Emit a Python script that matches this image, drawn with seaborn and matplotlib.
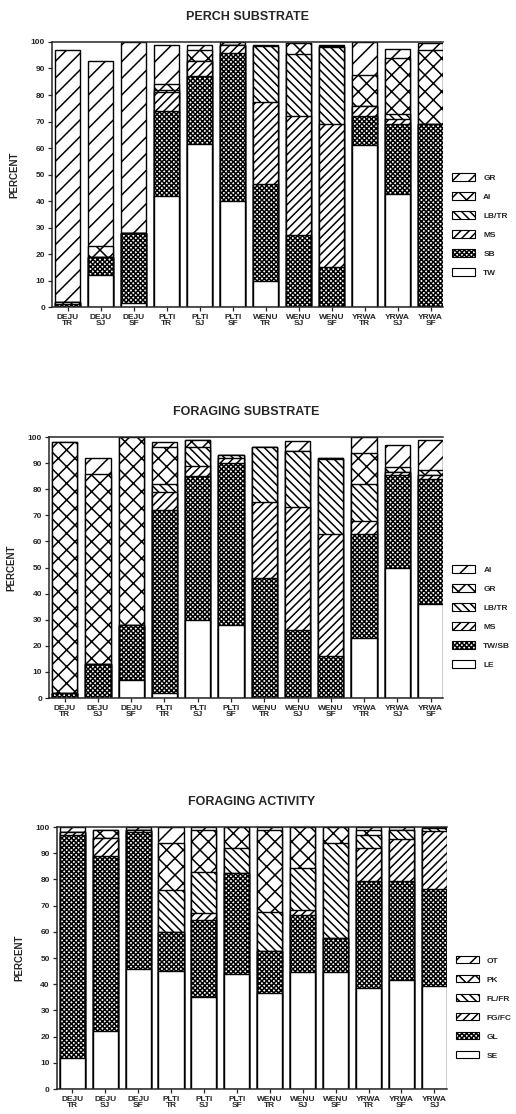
import pandas as pd
import matplotlib.pyplot as plt
import seaborn as sns
from matplotlib.patches import Patch

# Sites (bird species / habitat)
sites_a = ["DEJU\nTR", "DEJU\nSJ", "DEJU\nSF", "PLTI\nTR", "PLTI\nSJ", "PLTI\nSF",
           "WENU\nTR", "WENU\nSJ", "WENU\nSF", "YRWA\nTR", "YRWA\nSJ", "YRWA\nSF"]
sites_c = ["DEJU\nTR", "DEJU\nSJ", "DEJU\nSF", "PLTI\nTR", "PLTI\nSJ", "PLTI\nSF",
           "WENU\nTR", "WENU\nSJ", "WENU\nSF", "YRWA\nTR", "YRWA\nSF", "YRWA\nSJ"]

# Perch substrate (percent, bottom to top)
perch_tw = [0, 12, 1.5, 42, 61.5, 40, 10, 0, 0.5, 61, 42.5, 0.5]
perch_sb = [1, 7, 26.5, 32, 25.5, 56, 36.5, 27, 14.5, 11, 26.5, 68.5]
perch_ms = [1, 0, 0, 7, 6, 3, 31, 45, 54, 4, 2, 0]
perch_lbtr = [0, 0, 0, 1, 0, 0, 21, 23.5, 29, 0, 2, 0]
perch_ai = [0, 4, 0, 2, 4, 0, 0, 4, 0.5, 11.5, 21, 28]
perch_gr = [95, 70, 72, 15, 2, 1, 0.5, 0, 0.5, 12.5, 3.5, 2.5]

# Foraging substrate
forsub_le = [0, 0, 7, 2, 30, 28, 0, 0, 0, 23, 50, 36]
forsub_twsb = [2, 13, 21, 70, 55, 62, 46, 26, 16, 40, 35.5, 48]
forsub_ms = [0, 0, 0, 7, 4, 2, 29, 47, 47, 5, 1, 1.5]
forsub_lbtr = [0, 0, 0, 3, 7, 1, 21, 21.5, 28.5, 14, 0, 0]
forsub_gr = [96, 73, 72, 14, 3, 0, 0, 0, 0.5, 12, 2, 2]
forsub_ai = [0, 6, 0, 2, 0, 0, 0, 4, 0, 6, 8.5, 11.5]

# Foraging activity
foract_se = [12, 22, 46, 45, 35, 44, 36.5, 44.5, 44.5, 38.5, 41.5, 39.5]
foract_gl = [85, 67, 52, 15, 29.5, 38.5, 16, 22, 13, 41, 38, 37]
foract_fgfc = [1, 7, 1, 0, 2.5, 0, 0, 2, 0, 12.5, 16, 22]
foract_flfr = [0, 0, 0, 16, 16, 9.5, 15, 16, 36.5, 5, 3.5, 1]
foract_pk = [0, 3, 0, 18, 16, 8, 31.5, 15.5, 6, 2, 0, 0]
foract_ot = [2, 0, 1, 6, 1, 0, 1, 0, 0, 1, 1, 0.5]

# hatch per position in stack (bottom to top)
hatches = ["", "xxxxxxx", "////", "\\" * 4, "xx", "//"]

sns.set_style("ticks")
plt.rcParams["font.family"] = ["Liberation Sans", "DejaVu Sans"]
plt.rcParams["font.weight"] = "bold"
plt.rcParams["hatch.linewidth"] = 1.1
plt.rcParams["hatch.color"] = "black"

fig = plt.figure(figsize=(5.16, 11.14), dpi=100)

panels = [
    ("PERCH SUBSTRATE", sites_a, [0.101, 0.7244, 0.758, 0.2379],
     ["TW", "SB", "MS", "LB/TR", "AI", "GR"],
     [perch_tw, perch_sb, perch_ms, perch_lbtr, perch_ai, perch_gr]),
    ("FORAGING SUBSTRATE", sites_a, [0.095, 0.3734, 0.764, 0.2343],
     ["LE", "TW/SB", "MS", "LB/TR", "GR", "AI"],
     [forsub_le, forsub_twsb, forsub_ms, forsub_lbtr, forsub_gr, forsub_ai]),
    ("FORAGING ACTIVITY", sites_c, [0.110, 0.0224, 0.756, 0.2352],
     ["SE", "GL", "FG/FC", "FL/FR", "PK", "OT"],
     [foract_se, foract_gl, foract_fgfc, foract_flfr, foract_pk, foract_ot]),
]

for title, sites, rect, cats, values in panels:
    ax = fig.add_axes(rect)
    df = pd.DataFrame({c: v for c, v in zip(cats, values)})
    cum = df[cats].cumsum(axis=1)
    cum["site"] = sites
    # draw cumulative totals from the top layer down, each covering the last
    for i in range(len(cats) - 1, -1, -1):
        sns.barplot(data=cum, x="site", y=cats[i], order=sites, color="white",
                    saturation=1, edgecolor="black", linewidth=1.0,
                    hatch=hatches[i], width=0.76, errorbar=None, ax=ax)
    ax.set_xlim(-0.47, 11.38)
    ax.set_ylim(0, 100)
    ax.set_yticks(range(0, 101, 10))
    ax.set_xticks(range(12))
    ax.set_xticklabels(sites, fontsize=6, fontweight="bold", linespacing=0.85)
    ax.tick_params(axis="y", labelsize=6, length=3, width=0.9, pad=2)
    ax.tick_params(axis="x", length=3, width=0.9, pad=2)
    ax.set_xlabel("")
    ax.set_ylabel("PERCENT", fontsize=7, fontweight="bold", labelpad=8)
    ax.set_title(title, fontsize=9, fontweight="bold", pad=16)
    for s in ["left", "bottom", "top"]:
        ax.spines[s].set_linewidth(1.1)
    ax.spines["right"].set_visible(False)

    handles = [Patch(facecolor="white", edgecolor="black", linewidth=0.8, hatch=hatches[i])
               for i in range(len(cats) - 1, -1, -1)]
    ax.legend(handles, cats[::-1], loc="center left", bbox_to_anchor=(1.015, 0.31),
              frameon=False, fontsize=6, handlelength=2.7, handleheight=1.0,
              labelspacing=1.25, handletextpad=1.0, borderaxespad=0)

plt.savefig("out.png", dpi=100)
